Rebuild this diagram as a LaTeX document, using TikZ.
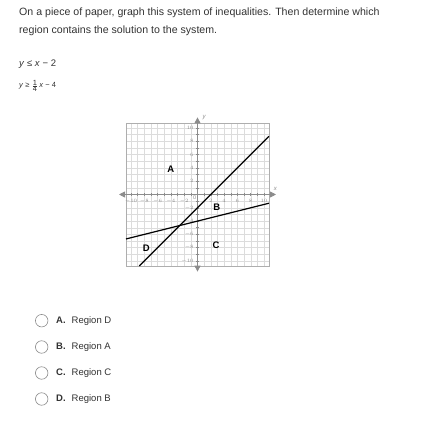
\documentclass[tikz,border=0pt]{standalone}
\usepackage{fontspec}
\setmainfont{Liberation Sans}
\usetikzlibrary{arrows.meta}
\definecolor{txt}{HTML}{333333}
\definecolor{axgray}{HTML}{8C8C8C}
\definecolor{gridgray}{HTML}{DCDCDC}
\tikzset{
  axisline/.style={axgray, line width=0.8pt, {Triangle[length=6pt,width=6pt]}-{Triangle[length=6pt,width=6pt]}},
  graphline/.style={black, line width=1.2pt},
  ticklab/.style={font=\fontsize{5.5}{5.5}\selectfont, text=axgray, inner sep=0pt},
  regionlab/.style={font=\bfseries\fontsize{9.5}{9.5}\selectfont, inner sep=0pt},
  choice/.style={circle, draw=axgray, line width=0.6pt, minimum size=12.5pt, inner sep=0pt},
  choicelab/.style={anchor=west, font=\fontsize{9.5}{9.5}\selectfont, text=txt, inner sep=0pt}
}

\begin{document}
\begin{tikzpicture}[x=1pt, y=-1pt]
\fill[white] (0,0) rectangle (424,422);
\useasboundingbox (0,0) rectangle (424,422);
\node[anchor=west, text=txt, font=\fontsize{10.6}{10.6}\selectfont, inner sep=0pt] (q1) at (19,12.7) {On a piece of paper, graph this system of inequalities. Then determine which};
\node[anchor=west, text=txt, font=\fontsize{10.6}{10.6}\selectfont, inner sep=0pt] (q2) at (19,31) {region contains the solution to the system.};
\node[anchor=west, text=txt, font=\fontsize{9.5}{9.5}\selectfont, inner sep=0pt] (ineq1) at (19,64) {\textit{y} ≤ \textit{x} − 2};
\node[anchor=west, text=txt, font=\fontsize{7.5}{7.5}\selectfont, inner sep=0pt] (ineq2) at (19,86) {\textit{y} ≥ $\frac{\mbox{\fontsize{7.5}{7.5}\selectfont 1}}{\mbox{\fontsize{7.5}{7.5}\selectfont 4}}$\,\textit{x} − 4};
\begin{scope}[shift={(197.5pt,-194.5pt)}, x=6.65pt, y=6.65pt]
\draw[gridgray, line width=0.4pt, step=1] (-10.75,-10.75) grid (10.75,10.75);
\draw[axgray!70, line width=0.6pt] (-10.75,-10.75) rectangle (10.75,10.75);
\coordinate (xl) at (-11.8,0);
\coordinate (xr) at (11.8,0);
\coordinate (yb) at (0,-11.6);
\coordinate (yt) at (0,11.6);
\draw[axisline] (xl) -- (xr);
\draw[axisline] (yb) -- (yt);
\foreach \i in {-10,...,10} {
  \draw[axgray, line width=0.5pt] (\i,-0.25) -- (\i,0.25);
  \draw[axgray, line width=0.5pt] (-0.25,\i) -- (0.25,\i);
}
\foreach \i in {-10,-8,-6,-4,-2,2,4,6,8,10} {
  \node[ticklab] (xt\i) at (\i,-0.95) {$\i$};
  \node[ticklab, anchor=east] (yt\i) at (-0.55,\i) {$\i$};
}
\node[ticklab, anchor=north east] (zero) at (-0.15,-0.2) {0};
\node[ticklab, font=\itshape\fontsize{6}{6}\selectfont] (xlab) at (11.7,0.9) {x};
\node[ticklab, font=\itshape\fontsize{6}{6}\selectfont] (ylab) at (1,11.5) {y};
\coordinate (l1a) at (-8.75,-10.75);
\coordinate (l1b) at (10.75,8.75);
\coordinate (l2a) at (-10.75,-6.6875);
\coordinate (l2b) at (10.75,-1.3125);
\draw[graphline] (l1a) -- (l1b);
\draw[graphline] (l2a) -- (l2b);
\node[regionlab] (regA) at (-4,3.8) {A};
\node[regionlab] (regB) at (2.9,-1.9) {B};
\node[regionlab] (regC) at (2.8,-7.6) {C};
\node[regionlab] (regD) at (-7.7,-8.05) {D};
\end{scope}
\foreach \row/\opt/\reg [count=\k] in {320.7/A/D, 347/B/A, 373/C/C, 399/D/B} {
  \node[choice] (c\k) at (41.7,\row) {};
  \node[choicelab] (l\k) at (56,\row) {\textbf{\opt.}\hspace{6pt}Region \reg};
}
\end{tikzpicture}
\end{document}
